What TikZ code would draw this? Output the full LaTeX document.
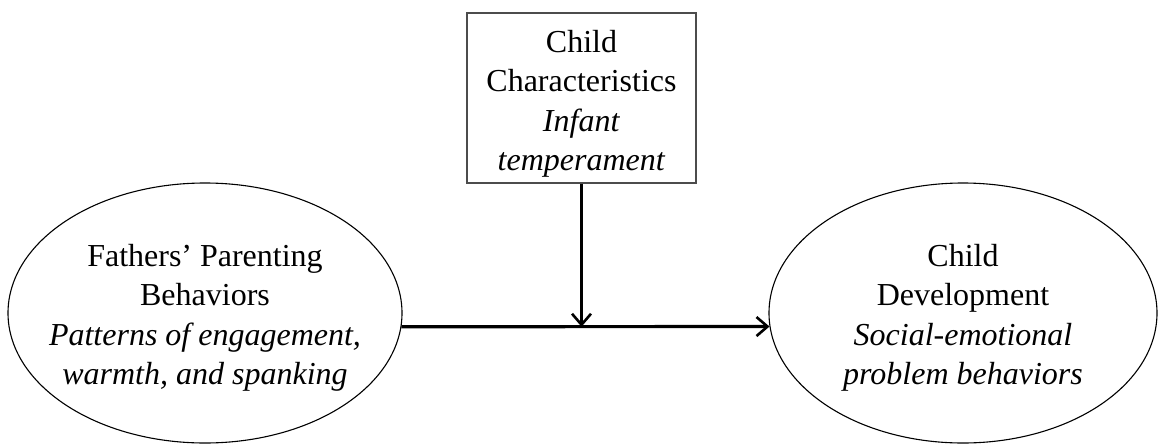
\documentclass[tikz,border=0pt]{standalone}
\usepackage{fontspec}
\setmainfont{Liberation Serif}
\usetikzlibrary{shapes.geometric,arrows.meta}

\begin{document}
\begin{tikzpicture}[yscale=-1
,pstyle0/.style={draw=black,ellipse,line width=1.1pt,minimum width=394pt,minimum height=260pt,inner sep=0}
,pstyle1/.style={draw=black!70,line width=1.6pt,minimum width=229pt,minimum height=170pt,inner sep=0}
,pstyle2/.style={color=black,line width=3.2pt,-{Straight Barb[length=11pt,width=19pt,line width=2.6pt]}}
,pstyle3/.style={align=center,inner sep=0,font=\fontsize{32}{39.5}\selectfont}
]
\useasboundingbox (0pt,0pt) rectangle (1160pt,445pt);
\node (cc) at (581.5pt,98pt)[pstyle1]{};
\node (cctext) at (581.5pt,104pt)[pstyle3]{Child\\Characteristics\\\textit{Infant}\\\textit{temperament}};
\node (fpb) at (205pt,313pt)[pstyle0]{};
\node (fpbtext) at (205pt,318pt)[pstyle3]{Fathers’ Parenting\\Behaviors\\\textit{Patterns of engagement,}\\\textit{warmth, and spanking}};
\node (cd) at (963pt,313pt)[pstyle0,minimum width=388pt]{};
\node (cdtext) at (963pt,318pt)[pstyle3]{Child\\Development\\\textit{Social-emotional}\\\textit{problem behaviors}};
\coordinate (mid) at (cc.south |- fpb.-4);
\draw[pstyle2] (fpb.-4) -- (cd.184);
\draw[pstyle2] (cc.south) -- (mid);
\end{tikzpicture}
\end{document}
